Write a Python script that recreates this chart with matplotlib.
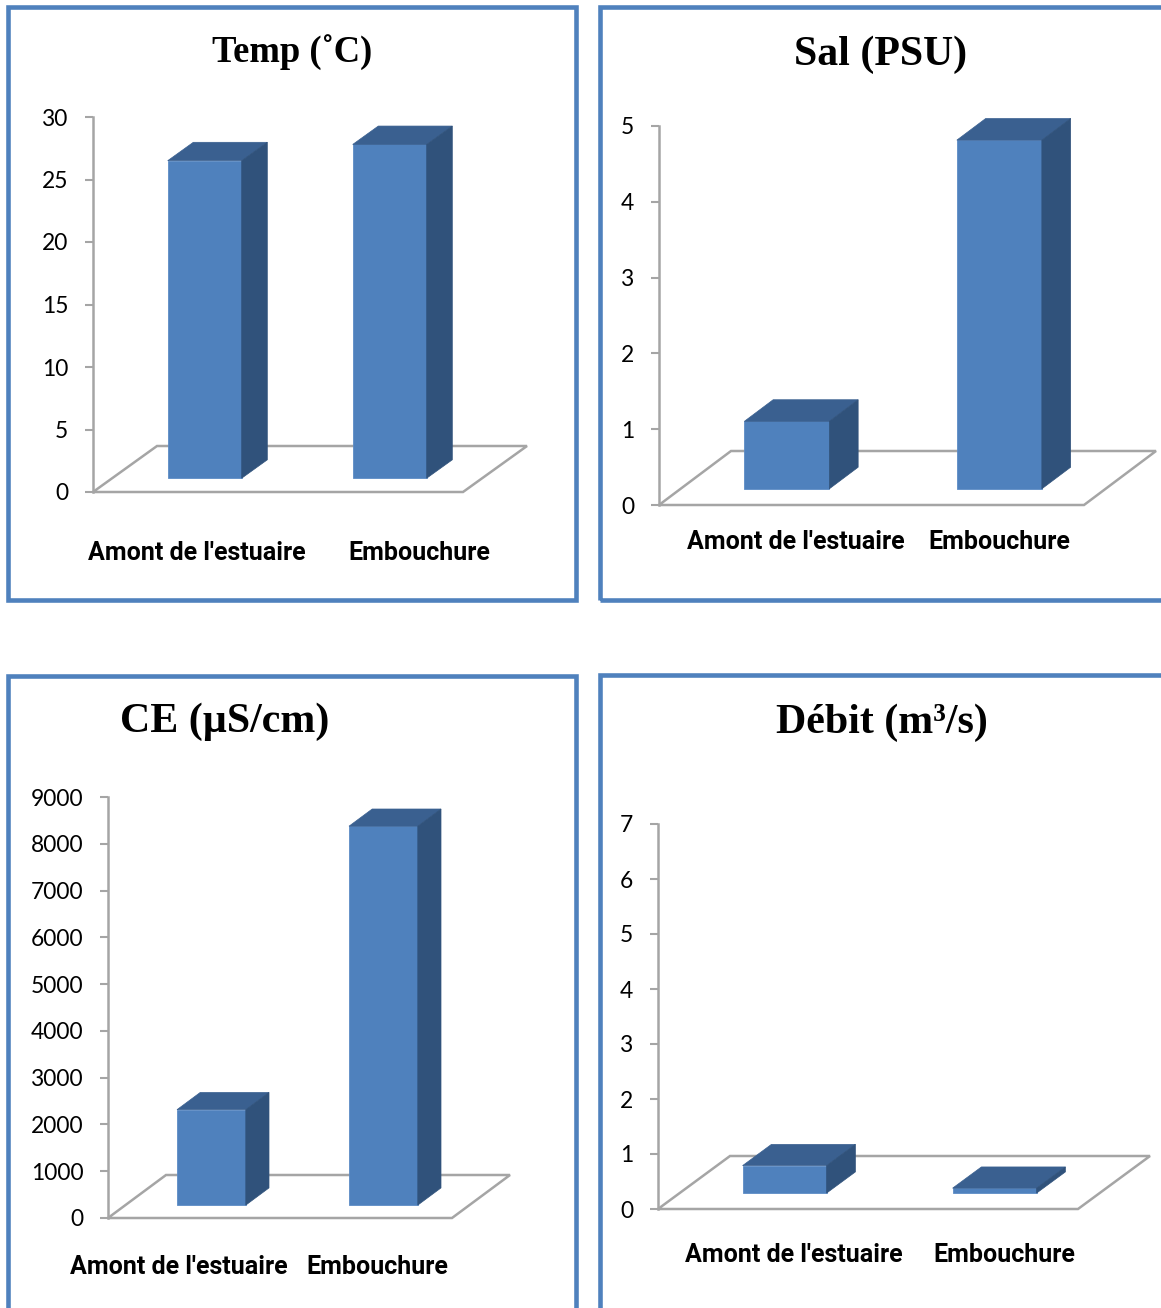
import matplotlib
matplotlib.use("Agg")
import matplotlib.pyplot as plt
from matplotlib.patches import Rectangle, Polygon

# ---------------------------------------------------------------- data
categories = ["Amont de l'estuaire", "Embouchure"]

temp_values = [25.4, 26.7]
sal_values = [0.89, 4.6]
ce_values = [2040, 8100]
debit_values = [0.5, 0.09]

temp_ticks = [0, 5, 10, 15, 20, 25, 30]
sal_ticks = [0, 1, 2, 3, 4, 5]
ce_ticks = [0, 1000, 2000, 3000, 4000, 5000, 6000, 7000, 8000, 9000]
debit_ticks = [0, 1, 2, 3, 4, 5, 6, 7]

titles = ["Temp (˚C)", "Sal (PSU)", "CE (µS/cm)", "Débit (m³/s)"]

# ---------------------------------------------------------------- style
W, H, DPI = 1161, 1308, 100
BLUE_FRAME = "#4F81BD"
FRONT = "#4F81BD"
TOP = "#3A6090"
SIDE = "#30527B"
GRAY = "#A5A5A5"
TICK_FONT = ["Lato", "DejaVu Sans"]
LABEL_FONT = ["Roboto", "DejaVu Sans"]
TITLE_FONT = ["Liberation Serif", "DejaVu Serif"]

BAR_START = 0.30   # depth fraction where a column begins
BAR_DEPTH = 0.40   # depth fraction occupied by a column
BAR_WIDTH = 0.40   # in category units

# Panel geometry in pixels: vertical axis x, floor front y, axis top y,
# floor front width, depth vector (dx, dy up), title (cx, baseline, width),
# category label centres and their vertical centre.
panels = [
    dict(values=temp_values, ticks=temp_ticks, title=titles[0],
         axis_x=93, floor_y=492, top_y=117, floor_w=370, depth=(64, 46),
         title_cx=292, title_base=62, title_w=161,
         label_x=(197, 419), label_y=553),
    dict(values=sal_values, ticks=sal_ticks, title=titles[1],
         axis_x=659, floor_y=505, top_y=126, floor_w=425, depth=(72, 54),
         title_cx=881, title_base=65, title_w=173,
         label_x=(796, 999), label_y=542),
    dict(values=ce_values, ticks=ce_ticks, title=titles[2],
         axis_x=108, floor_y=1218, top_y=797, floor_w=344, depth=(58, 43),
         title_cx=225, title_base=732, title_w=210,
         label_x=(179, 377), label_y=1267),
    dict(values=debit_values, ticks=debit_ticks, title=titles[3],
         axis_x=658, floor_y=1209, top_y=824, floor_w=420, depth=(72, 53),
         title_cx=882, title_base=733, title_w=212,
         label_x=(794, 1004), label_y=1255),
]

# Frames around each chart (pixel rectangles: left, top, right, bottom)
frames = [
    (7.5, 7, 575.5, 600),
    (600, 7, 1190, 600),
    (7.5, 675.5, 575.5, 1340),
    (600, 675, 1190, 1340),
]

fig = plt.figure(figsize=(W / DPI, H / DPI), dpi=DPI)
fig.patch.set_facecolor("white")
renderer = fig.canvas.get_renderer()


def fx(x):
    return x / W


def fy(y):
    return 1 - y / H


def fitted_size(s, target_w, family, weight="normal"):
    """Font size (pt) at which text s is target_w pixels wide."""
    t = fig.text(0.5, 0.5, s, fontsize=20, family=family, fontweight=weight)
    w = t.get_window_extent(renderer).width
    t.remove()
    return 20 * target_w / w


for (l, t, r, b) in frames:
    fig.add_artist(Rectangle((fx(l), fy(b)), (r - l) / W, (b - t) / H,
                             transform=fig.transFigure, fill=False,
                             edgecolor=BLUE_FRAME, linewidth=3.3,
                             joinstyle="miter", zorder=0))

tick_size = fitted_size("9000", 53, TICK_FONT)
label_size = fitted_size(categories[0], 217, LABEL_FONT, "bold")

for p in panels:
    ymax = p["ticks"][-1]
    h_px = p["floor_y"] - p["top_y"]
    ax = fig.add_axes([fx(p["axis_x"]), fy(p["floor_y"]),
                       p["floor_w"] / W, h_px / H])
    ax.set_xlim(0, 2)
    ax.set_ylim(0, ymax)
    ax.patch.set_alpha(0)
    for side in ("top", "right", "bottom"):
        ax.spines[side].set_visible(False)
    ax.spines["left"].set_color(GRAY)
    ax.spines["left"].set_linewidth(1.8)
    ax.set_xticks([])
    ax.set_yticks(p["ticks"])
    ax.set_yticklabels([str(v) for v in p["ticks"]])
    ax.tick_params(axis="y", direction="out", length=5.8, width=1.5,
                   color=GRAY, labelsize=tick_size, pad=12.0,
                   labelcolor="black")
    for lab in ax.get_yticklabels():
        lab.set_family(TICK_FONT)

    # depth vector in data units
    ddx = p["depth"][0] / p["floor_w"] * 2
    ddy = p["depth"][1] / h_px * ymax

    floor = Polygon([(0, 0), (2, 0), (2 + ddx, ddy), (ddx, ddy)],
                    closed=True, fill=False, edgecolor=GRAY, linewidth=1.8,
                    clip_on=False, zorder=1, joinstyle="miter")
    ax.add_patch(floor)

    centres = [i + 0.5 for i in range(len(p["values"]))]
    bars = ax.bar([c + BAR_START * ddx for c in centres], p["values"],
                  width=BAR_WIDTH, bottom=BAR_START * ddy, color=FRONT,
                  edgecolor="#5C8CC6", linewidth=0.6, zorder=3, clip_on=False)
    ox, oy = BAR_DEPTH * ddx, BAR_DEPTH * ddy
    for bar in bars:
        x0, y0 = bar.get_x(), bar.get_y()
        x1, y1 = x0 + bar.get_width(), y0 + bar.get_height()
        ax.add_patch(Polygon([(x0, y1), (x1, y1), (x1 + ox, y1 + oy),
                              (x0 + ox, y1 + oy)], closed=True,
                             facecolor=TOP, edgecolor=TOP, linewidth=0.5,
                             zorder=3, clip_on=False))
        ax.add_patch(Polygon([(x1, y0), (x1, y1), (x1 + ox, y1 + oy),
                              (x1 + ox, y0 + oy)], closed=True,
                             facecolor=SIDE, edgecolor=SIDE, linewidth=0.5,
                             zorder=3, clip_on=False))

    title_size = fitted_size(p["title"], p["title_w"], TITLE_FONT, "bold")
    fig.text(fx(p["title_cx"]), fy(p["title_base"]), p["title"],
             fontsize=title_size, family=TITLE_FONT, fontweight="bold",
             ha="center", va="baseline")
    for cx, name in zip(p["label_x"], categories):
        fig.text(fx(cx), fy(p["label_y"]), name, fontsize=label_size,
                 family=LABEL_FONT, fontweight="bold", ha="center",
                 va="center", color="black")

fig.savefig("out.png", dpi=DPI, facecolor="white")
